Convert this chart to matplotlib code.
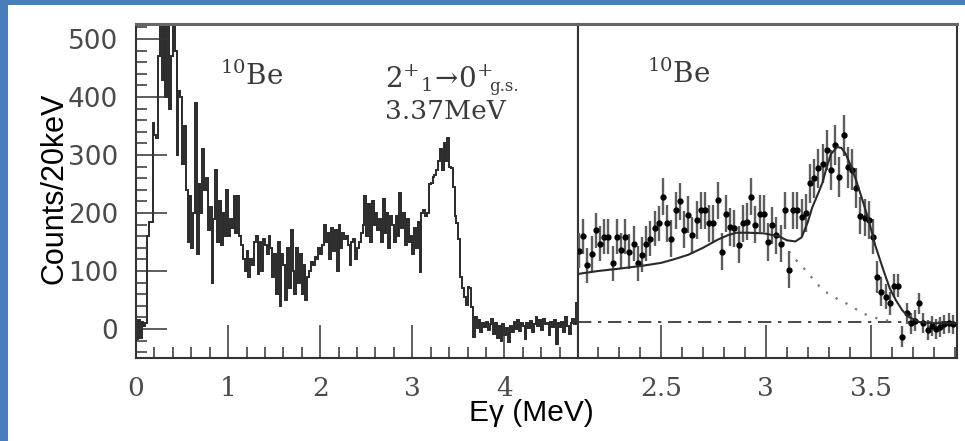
import numpy as np
import matplotlib
matplotlib.use("Agg")
import matplotlib.pyplot as plt
from matplotlib.patches import Rectangle
from matplotlib.ticker import MultipleLocator, FuncFormatter

# ---- gamma-ray spectrum of 10Be, 20 keV bins starting at 0 MeV ----
BIN_WIDTH = 0.02
spectrum_counts = [
    -18, 15, -15, 12, 5, 10, 160, 185, 185, 355,
    335, 330, 470, 540, 430, 540, 400, 545, 380, 470,
    540, 480, 300, 410, 400, 285, 350, 240, 150, 230,
    140, 200, 390, 130, 250, 200, 310, 240, 260, 170,
    210, 80, 190, 275, 150, 220, 145, 200, 160, 240,
    160, 190, 175, 230, 165, 230, 160, 145, 120, 100,
    135, 90, 120, 110, 150, 160, 95, 150, 100, 155,
    145, 130, 160, 140, 90, 130, 60, 150, 40, 130,
    110, 50, 140, 70, 170, 100, 60, 140, 80, 130,
    60, 110, 50, 90, 100, 115, 110, 125, 120, 140,
    130, 145, 180, 150, 165, 120, 175, 135, 170, 100,
    180, 140, 165, 155, 160, 145, 110, 150, 155, 120,
    140, 150, 165, 180, 230, 160, 215, 150, 220, 180,
    200, 170, 190, 150, 225, 165, 200, 140, 195, 180,
    150, 195, 160, 235, 175, 200, 145, 190, 150, 160,
    130, 175, 140, 185, 98, 200, 205, 195, 200, 250,
    252, 262, 265, 275, 290, 310, 275, 320, 290, 330,
    280, 278, 245, 195, 182, 155, 90, 70, 55, 42,
    72, 70, 38, -14, 20, 2, 15, -5, 10, 3,
    12, -2, 8, 18, -8, 10, -15, 5, -20, 8,
    -10, 2, -22, 6, -5, 12, 0, 15, -3, 10,
    5, -18, 10, 2, 14, -6, 8, 20, 5, 15,
    -2, 18, 8, 10, -10, 12, 4, 15, -25, 10,
    3, 12, -5, 20, 5, -8, 10, 18, 8, 45,
]

# ---- zoomed region around the 3.37 MeV line (20 keV points from 2.11 MeV) ----
PEAK_E0 = 2.11
peak_counts = [
    135, 160, 110, 130, 170, 147, 159, 159, 113, 159,
    136, 159, 133, 147, 113, 128, 147, 156, 174, 182,
    228, 182, 156, 205, 220, 171, 197, 162, 188, 205,
    205, 182, 182, 222, 133, 199, 176, 174, 145, 182,
    185, 228, 180, 199, 199, 150, 179, 162, 147, 205,
    102, 205, 205, 193, 200, 251, 260, 277, 285, 309,
    274, 317, 262, 334, 279, 275, 243, 195, 192, 188,
    159, 90, 64, 56, 44, 75, 75, -13, 27, 10,
    14, 44, 10, -2, 5, 0, 3, 8, 10, 8,
]
peak_errors = [
    30, 30, 30, 30, 30, 30, 30, 30, 30, 30,
    30, 30, 30, 30, 30, 30, 30, 30, 30, 30,
    32, 32, 32, 32, 32, 32, 32, 32, 32, 32,
    32, 32, 32, 32, 32, 32, 32, 32, 32, 32,
    32, 32, 32, 32, 32, 32, 32, 32, 32, 32,
    32, 32, 32, 32, 32, 34, 34, 34, 34, 35,
    35, 35, 35, 35, 35, 35, 34, 32, 32, 32,
    30, 28, 25, 22, 20, 20, 20, 18, 18, 18,
    18, 18, 17, 17, 17, 17, 17, 17, 17, 17,
]

# simulated line shape (solid) and background component (dotted)
fit_energy = [2.105, 2.2, 2.3, 2.41, 2.5, 2.56, 2.63, 2.70, 2.77, 2.82,
              2.86, 2.92, 2.99, 3.06, 3.10, 3.14, 3.17, 3.20, 3.22, 3.25,
              3.27, 3.29, 3.31, 3.34, 3.36, 3.38, 3.40, 3.43, 3.46, 3.49,
              3.52, 3.56, 3.59, 3.62, 3.65, 3.68, 3.73, 3.80, 3.91]
fit_counts = [95, 100, 104, 109, 114, 120, 128, 140, 154, 162,
              166, 166, 165, 160, 153, 151, 158, 185, 209, 235,
              253, 280, 302, 314, 312, 302, 285, 256, 222, 187,
              145, 101, 70, 49, 32, 21, 12, 10, 10]
bg_energy = [3.08, 3.12, 3.18, 3.27, 3.34, 3.40, 3.46, 3.54, 3.62]
bg_counts = [150, 128, 105, 67, 52, 41, 27, 17, 12]
baseline_level = 12

INK = "#2a2a2a"
GREY = "#4a4a4a"
BORDER_BLUE = "#4a7ebb"

fig = plt.figure(figsize=(9.65, 4.41), dpi=100)
fig.patch.set_facecolor("white")
fig.patches.append(Rectangle((0, 0), 8 / 965, 1, transform=fig.transFigure,
                             facecolor=BORDER_BLUE, edgecolor="none", zorder=0))
fig.patches.append(Rectangle((0, 1 - 5 / 441), 1, 5 / 441, transform=fig.transFigure,
                             facecolor=BORDER_BLUE, edgecolor="none", zorder=0))

bottom = 1 - 358 / 441
height = 334 / 441
ax1 = fig.add_axes([136 / 965, bottom, 442 / 965, height])
ax2 = fig.add_axes([578 / 965, bottom, 379 / 965, height])

YLIM = (-50, 526)

# left: full spectrum as a step histogram
edges = np.arange(len(spectrum_counts) + 1) * BIN_WIDTH
ax1.stairs(spectrum_counts, edges, baseline=None, color=INK, linewidth=1.4)
ax1.set_xlim(0, 4.8)
ax1.set_ylim(*YLIM)

# right: data points with error bars, fit and background
peak_energy = PEAK_E0 + BIN_WIDTH * np.arange(len(peak_counts))
ax2.errorbar(peak_energy, peak_counts, yerr=peak_errors, fmt="o", ms=3.5,
             color="black", ecolor="#5e5e5e", elinewidth=1.7, capsize=0, zorder=3)
ax2.plot(fit_energy, fit_counts, color=INK, linewidth=1.5, zorder=4)
ax2.plot(bg_energy, bg_counts, color="#777777", linewidth=1.6,
         linestyle=(0, (1, 4)), zorder=2)
ax2.axhline(baseline_level, color=INK, linewidth=1.2,
            linestyle=(0, (8, 4, 2, 4)), zorder=1)
ax2.set_xlim(2.105, 3.91)
ax2.set_ylim(*YLIM)

for ax in (ax1, ax2):
    for side, sp in ax.spines.items():
        sp.set_color("#333333")
        sp.set_linewidth(1.5)
    ax.spines["top"].set_linewidth(2.2)
    ax.spines["top"].set_color("#666666")
    ax.tick_params(which="both", direction="in", color="#333333", width=1.1,
                   top=False, right=False)
    ax.tick_params(which="major", length=24)
    ax.tick_params(which="minor", length=8)
    ax.tick_params(axis="x", which="major", pad=13, labelsize=19, labelcolor=GREY)

ax1.xaxis.set_major_locator(MultipleLocator(1))
ax1.xaxis.set_minor_locator(MultipleLocator(0.2))
ax1.yaxis.set_major_locator(MultipleLocator(100))
ax1.yaxis.set_minor_locator(MultipleLocator(20))
ax1.tick_params(axis="y", which="major", pad=13, labelsize=19, labelcolor=GREY)
ax1.set_yticks([0, 100, 200, 300, 400, 500])
ax1.tick_params(axis="y", which="major", length=22)

ax2.xaxis.set_major_locator(MultipleLocator(0.5))
ax2.xaxis.set_minor_locator(MultipleLocator(0.1))
ax2.xaxis.set_major_formatter(FuncFormatter(lambda v, p: f"{v:g}"))
ax2.tick_params(axis="y", which="both", left=False, labelleft=False)

for lab in ax1.get_xticklabels() + ax2.get_xticklabels():
    lab.set_family("DejaVu Serif")
for lab in ax1.get_yticklabels():
    lab.set_family("DejaVu Sans")

plt.rcParams["mathtext.fontset"] = "dejavuserif"
serif = dict(family="DejaVu Serif", color="#3a3a3a")
ax1.text(0.19, 0.817, r"$^{10}$Be", transform=ax1.transAxes, fontsize=20,
         ha="left", va="baseline", **serif)
ax1.text(0.563, 0.811, r"$2^{+}{}_{1}\!\rightarrow\!0^{+}$",
         transform=ax1.transAxes, fontsize=20, ha="left", va="baseline", **serif)
ax1.text(0.80, 0.800, "g.s.", transform=ax1.transAxes, fontsize=12,
         ha="left", va="baseline", **serif)
ax1.text(0.563, 0.716, "3.37MeV", transform=ax1.transAxes, fontsize=19,
         ha="left", va="baseline", **serif)
ax2.text(0.182, 0.823, r"$^{10}$Be", transform=ax2.transAxes, fontsize=20,
         ha="left", va="baseline", **serif)

fig.text(55 / 965, 1 - 188 / 441, "Counts/20keV", rotation=90, ha="center",
         va="center", fontsize=22, family="Liberation Sans", color="black")
fig.text(531 / 965, 1 - 413 / 441, "E\u03b3 (MeV)", ha="center", va="center",
         fontsize=21.5, family="Liberation Sans", color="black")

fig.savefig("out.png", dpi=100, facecolor="white")
